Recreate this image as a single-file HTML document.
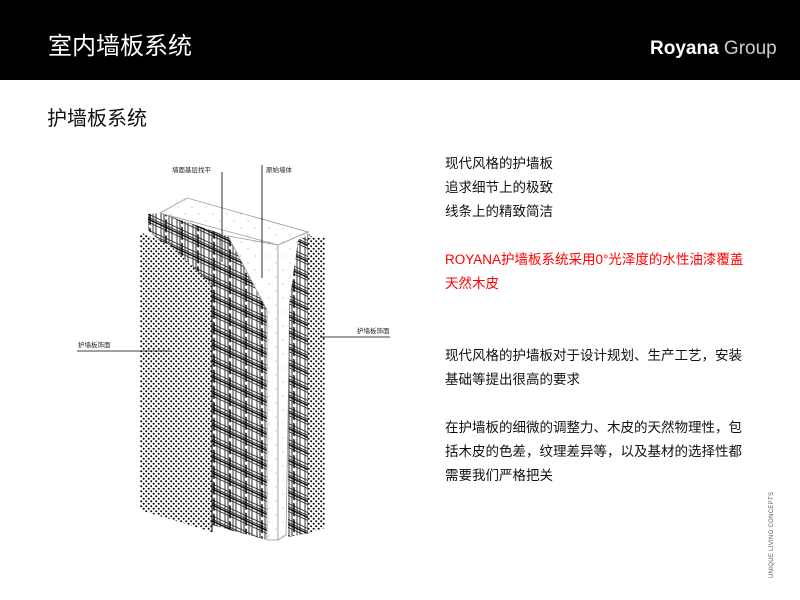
<!DOCTYPE html>
<html><head><meta charset="utf-8">
<style>
html,body{margin:0;padding:0;}
body{width:800px;height:600px;background:#fff;position:relative;overflow:hidden;font-family:"Liberation Sans","Noto Sans CJK SC",sans-serif;}
.hdr{position:absolute;left:0;top:0;width:800px;height:80px;background:#000;}
.title{position:absolute;left:48px;top:26px;color:#fff;font-size:24px;}
.logo{position:absolute;left:650px;top:38px;color:#fff;font-size:19px;}
.logo b{font-weight:bold;}
.logo span{color:#ccc;}
.sub{position:absolute;left:47px;top:102px;font-size:20px;color:#111;}
.t{position:absolute;left:445px;font-size:13.5px;color:#111;white-space:nowrap;line-height:16px;}
.r{color:#f00;}
.vert{position:absolute;left:769px;top:578px;transform-origin:0 0;transform:rotate(-90deg);font-size:6px;color:#555;letter-spacing:0.3px;white-space:nowrap;}
</style></head><body>
<div class="hdr"></div>
<div class="title">室内墙板系统</div>
<div class="logo"><b>Royana</b> <span>Group</span></div>
<div class="sub">护墙板系统</div>
<div class="t" style="top:156px">现代风格的护墙板</div>
<div class="t" style="top:180px">追求细节上的极致</div>
<div class="t" style="top:204px">线条上的精致简洁</div>
<div class="t r" style="top:252px">ROYANA护墙板系统采用0°光泽度的水性油漆覆盖</div>
<div class="t r" style="top:276px">天然木皮</div>
<div class="t" style="top:348px">现代风格的护墙板对于设计规划、生产工艺，安装</div>
<div class="t" style="top:372px">基础等提出很高的要求</div>
<div class="t" style="top:420px">在护墙板的细微的调整力、木皮的天然物理性，包</div>
<div class="t" style="top:444px">括木皮的色差，纹理差异等，以及基材的选择性都</div>
<div class="t" style="top:468px">需要我们严格把关</div>
<div class="vert">UNIQUE LIVING CONCEPTS</div>
<svg width="800" height="600" style="position:absolute;left:0;top:0">
<defs>
<pattern id="dots" width="5" height="5" patternUnits="userSpaceOnUse">
<rect width="5" height="5" fill="#fff"/>
<circle cx="1.2" cy="1.2" r="1" fill="#000"/><circle cx="3.7" cy="3.7" r="1" fill="#000"/>
</pattern>
<pattern id="hatch" width="16" height="16" patternUnits="userSpaceOnUse" patternTransform="skewY(25)">
<rect width="16" height="16" fill="#fff"/>
<path d="M0 1H16M0 4H16M0 9H16M1 0V16M4 0V16M9 0V16M12 0V16" stroke="#333" stroke-width="1"/>
<path d="M0 6H16M6 0V16" stroke="#000" stroke-width="1.5"/>
<rect x="13" y="10" width="3" height="4" fill="#fff"/>
<rect x="5" y="11" width="3" height="3" fill="#fff"/>
</pattern>
<pattern id="speck" width="14" height="14" patternUnits="userSpaceOnUse">
<rect width="14" height="14" fill="#fff"/>
<circle cx="3" cy="4" r="0.5" fill="#888"/><circle cx="10" cy="11" r="0.5" fill="#888"/>
</pattern>
</defs>
<polygon points="148,214 160,213 228,236 267,310 267,540 212,525 212,285 180,260 148,230" fill="url(#hatch)"/>
<polygon points="140,232 170,245 212,285 212,532 140,510" fill="url(#dots)"/>
<line x1="212" y1="285" x2="212" y2="532" stroke="#000" stroke-width="1"/>
<polygon points="160,213 187,198 308,232 278,245" fill="url(#speck)" stroke="#999" stroke-width="0.8"/>
<polygon points="228,236 278,245 278,540 267,540 267,310" fill="url(#speck)" stroke="#999" stroke-width="0.8"/>
<polygon points="278,245 308,232 290,300 286,535 278,540" fill="url(#speck)" stroke="#999" stroke-width="0.8"/>
<polygon points="298,240 310,234 310,533 288,537 289,305" fill="url(#hatch)"/>
<polygon points="308,236 325,238 325,528 308,533" fill="url(#dots)"/>
<line x1="222" y1="172" x2="222" y2="262" stroke="#000" stroke-width="0.8"/>
<line x1="262" y1="165" x2="262" y2="278" stroke="#000" stroke-width="0.8"/>
<line x1="77" y1="351" x2="170" y2="351" stroke="#000" stroke-width="0.8"/>
<line x1="320" y1="337" x2="390" y2="337" stroke="#000" stroke-width="0.8"/>
<g font-family="'Liberation Sans','Noto Sans CJK SC',sans-serif" font-size="6.5" fill="#222">
<text x="172" y="172">墙面基层找平</text>
<text x="266" y="172">原始墙体</text>
<text x="78" y="347">护墙板饰面</text>
<text x="357" y="333">护墙板饰面</text>
</g>
</svg>
</body></html>
